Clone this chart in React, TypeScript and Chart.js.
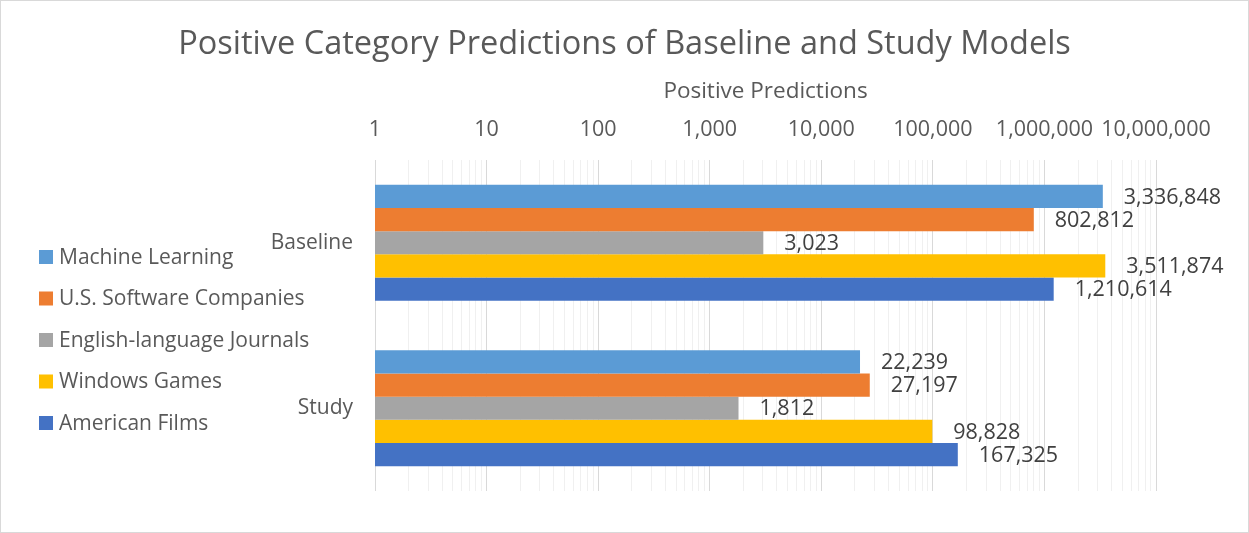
import React, { useEffect, useRef } from "react";
import { Chart, registerables } from "chart.js";

Chart.register(...registerables);

const FONT = "'Open Sans', 'Noto Sans', sans-serif";

const chartTitle = "Positive Category Predictions of Baseline and Study Models";
const axisTitle = "Positive Predictions";
const categories = ["Baseline", "Study"];
const seriesNames = [
  "Machine Learning",
  "U.S. Software Companies",
  "English-language Journals",
  "Windows Games",
  "American Films",
];
const machineLearning = [3336848, 22239];
const usSoftwareCompanies = [802812, 27197];
const englishJournals = [3023, 1812];
const windowsGames = [3511874, 98828];
const americanFilms = [1210614, 167325];
const seriesColors = ["#5B9BD5", "#ED7D31", "#A5A5A5", "#FFC000", "#4472C4"];
const majorTicks = [1, 10, 100, 1000, 10000, 100000, 1000000, 10000000];
const tickLabels = ["1", "10", "100", "1,000", "10,000", "100,000", "1,000,000", "10,000,000"];

const seriesValues = [machineLearning, usSoftwareCompanies, englishJournals, windowsGames, americanFilms];

const backgroundPlugin = {
  id: "bgBorder",
  beforeDraw(chart: any) {
    const ctx = chart.ctx;
    ctx.save();
    ctx.fillStyle = "#FFFFFF";
    ctx.fillRect(0, 0, chart.width, chart.height);
    ctx.strokeStyle = "#D9D9D9";
    ctx.lineWidth = 1;
    ctx.strokeRect(0.5, 0.5, chart.width - 1, chart.height - 1);
    ctx.restore();
  },
};

const titlePlugin = {
  id: "centeredTitle",
  afterDraw(chart: any) {
    const ctx = chart.ctx;
    ctx.save();
    ctx.font = `32.5px ${FONT}`;
    ctx.fillStyle = "#595959";
    ctx.textAlign = "center";
    ctx.textBaseline = "middle";
    ctx.fillText(chartTitle, chart.width / 2, 45);
    ctx.restore();
  },
};

const dataLabelPlugin = {
  id: "dataLabels",
  afterDatasetsDraw(chart: any) {
    const ctx = chart.ctx;
    ctx.save();
    ctx.font = `21.5px ${FONT}`;
    ctx.fillStyle = "#404040";
    ctx.textAlign = "left";
    ctx.textBaseline = "middle";
    chart.data.datasets.forEach((ds: any, di: number) => {
      const meta = chart.getDatasetMeta(di);
      meta.data.forEach((bar: any, i: number) => {
        const v = ds.data[i] as number;
        ctx.fillText(v.toLocaleString("en-US"), bar.x + 21, bar.y + 1);
      });
    });
    ctx.restore();
  },
};

const legendPlugin = {
  id: "sideLegend",
  afterDraw(chart: any) {
    const ctx = chart.ctx;
    ctx.save();
    ctx.font = `21px ${FONT}`;
    ctx.textAlign = "left";
    ctx.textBaseline = "middle";
    const startY = 257;
    const step = 41.5;
    chart.data.datasets.forEach((ds: any, i: number) => {
      const y = startY + i * step;
      ctx.fillStyle = ds.backgroundColor;
      ctx.fillRect(39, y - 7, 14, 14);
      ctx.fillStyle = "#595959";
      ctx.fillText(ds.label, 59, y + 1);
    });
    ctx.restore();
  },
};

export default function App() {
  const canvasRef = useRef<HTMLCanvasElement | null>(null);

  useEffect(() => {
    if (!canvasRef.current) return;
    const chart = new Chart(canvasRef.current, {
      type: "bar",
      data: {
        labels: categories,
        datasets: seriesNames.map((name, i) => ({
          label: name,
          data: seriesValues[i],
          backgroundColor: seriesColors[i],
          borderWidth: 0,
          categoryPercentage: 0.7,
          barPercentage: 1.0,
        })),
      },
      options: {
        indexAxis: "y",
        responsive: false,
        animation: false,
        devicePixelRatio: 1,
        layout: { padding: { left: 0, right: 93, top: 70, bottom: 42 } },
        plugins: {
          legend: { display: false },
          tooltip: { enabled: false },
          title: { display: false },
        },
        scales: {
          x: {
            type: "logarithmic",
            position: "top",
            min: 1,
            max: 10000000,
            border: { display: false },
            grid: {
              drawTicks: false,
              color: (ctx: any) => (ctx.tick && ctx.tick.major ? "#D9D9D9" : "#F0F0F0"),
              lineWidth: 1,
            },
            title: {
              display: true,
              text: axisTitle,
              color: "#595959",
              font: { family: FONT, size: 22.5 },
              padding: { top: 8.5, bottom: 0 },
            },
            ticks: {
              autoSkip: false,
              maxRotation: 0,
              padding: 17.4,
              color: "#595959",
              font: { family: FONT, size: 21.5 },
              callback: (value: any) => {
                const idx = majorTicks.indexOf(Number(value));
                return idx >= 0 ? tickLabels[idx] : "";
              },
            },
            afterBuildTicks: (scale: any) => {
              const t: any[] = [];
              majorTicks.forEach((m, i) => {
                t.push({ value: m, major: true });
                if (i < majorTicks.length - 1) {
                  for (let k = 2; k <= 9; k++) t.push({ value: m * k, major: false });
                }
              });
              scale.ticks = t;
            },
            afterFit: (scale: any) => {
              scale.height = 90;
            },
          },
          y: {
            type: "category",
            grid: { display: false },
            border: { display: false },
            ticks: {
              color: "#595959",
              font: { family: FONT, size: 21 },
              padding: 14,
            },
            afterFit: (scale: any) => {
              scale.width = 375;
            },
          },
        },
      },
      plugins: [backgroundPlugin, dataLabelPlugin, legendPlugin, titlePlugin],
    } as any);
    return () => chart.destroy();
  }, []);

  return (
    <div style={{ position: "absolute", left: 0, top: 0, width: 1249, height: 533 }}>
      <canvas ref={canvasRef} width={1249} height={533} style={{ display: "block" }} />
    </div>
  );
}
